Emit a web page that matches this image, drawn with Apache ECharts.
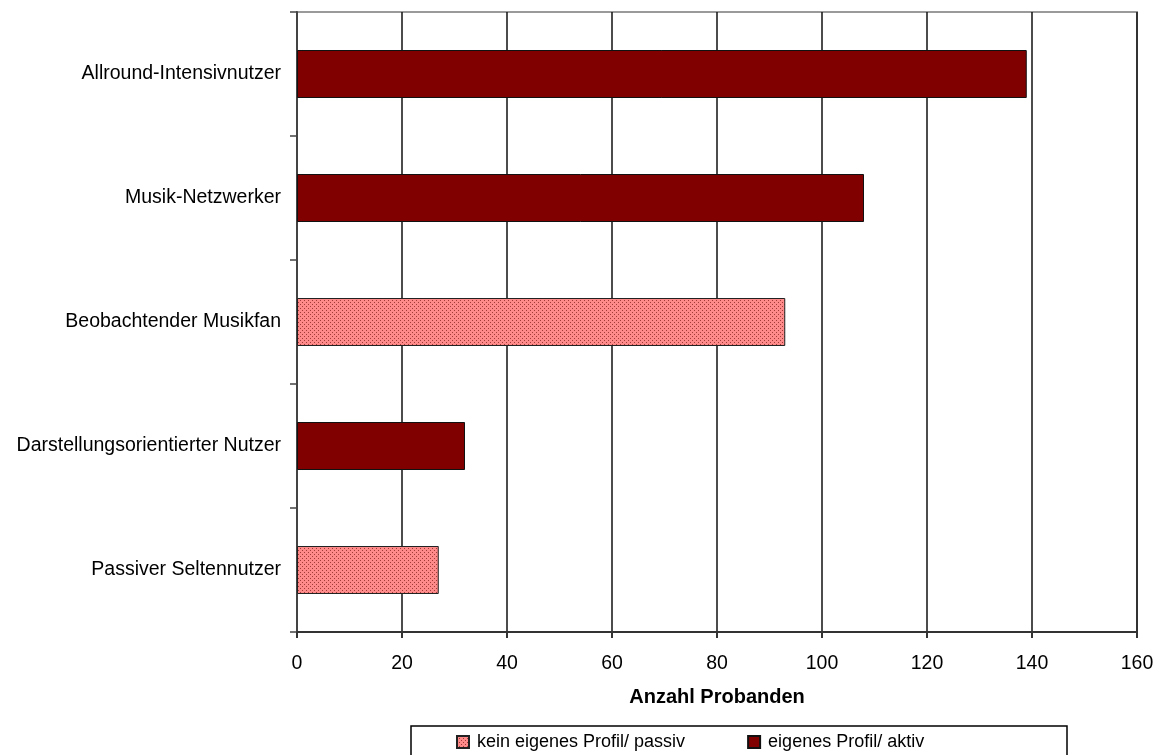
<!DOCTYPE html>
<html>
<head>
<meta charset="utf-8">
<script src="https://cdn.jsdelivr.net/npm/echarts@6/dist/echarts.min.js"></script>
<style>
  html, body { margin: 0; padding: 0; background: #fff; }
  #chart { width: 1158px; height: 755px; }
</style>
</head>
<body>
<div id="chart"></div>
<script>
// Nutzertypen, von oben nach unten
const categories = [
  'Allround-Intensivnutzer',
  'Musik-Netzwerker',
  'Beobachtender Musikfan',
  'Darstellungsorientierter Nutzer',
  'Passiver Seltennutzer'
];
// Anzahl Probanden je Typ, getrennt nach Profilstatus (null = nicht zutreffend)
const passivValues = [null, null, 93, null, 27];
const aktivValues  = [139, 108, null, 32, null];
const seriesNames = ['kein eigenes Profil/ passiv', 'eigenes Profil/ aktiv'];
const xTicks = { min: 0, max: 160, interval: 20 };
const xAxisTitle = 'Anzahl Probanden';

// Punktraster für die passive Gruppe
function dotPattern() {
  const c = document.createElement('canvas');
  c.width = 4; c.height = 4;
  const g = c.getContext('2d');
  g.fillStyle = '#ff8a8a';
  g.fillRect(0, 0, 4, 4);
  g.fillStyle = '#a33a3a';
  g.fillRect(0, 0, 1, 1);
  g.fillRect(2, 2, 1, 1);
  return c;
}

const chart = echarts.init(document.getElementById('chart'), null, { renderer: 'canvas' });
const font = '"Liberation Sans", Arial, sans-serif';

chart.setOption({
  animation: false,
  backgroundColor: '#fff',
  textStyle: { fontFamily: font },
  grid: {
    left: 297, right: 21, top: 12, bottom: 123,
    show: true, borderColor: '#9a9a9a', borderWidth: 2,
    containLabel: false
  },
  xAxis: {
    type: 'value',
    min: xTicks.min, max: xTicks.max, interval: xTicks.interval,
    name: xAxisTitle,
    nameLocation: 'middle',
    nameGap: 55,
    nameTextStyle: { fontFamily: font, fontSize: 20, fontWeight: 'bold', color: '#000' },
    axisLine: { show: true, lineStyle: { color: '#333', width: 2 } },
    axisTick: { show: true, length: 6, lineStyle: { color: '#333', width: 2 } },
    axisLabel: { fontFamily: font, fontSize: 19.5, color: '#000', margin: 22 },
    splitLine: { show: true, lineStyle: { color: '#111', width: 1.5 } }
  },
  yAxis: {
    type: 'category',
    data: categories,
    inverse: true,
    axisLine: { show: true, lineStyle: { color: '#444', width: 2 } },
    axisTick: { show: true, length: 7, lineStyle: { color: '#444', width: 1.5 } },
    axisLabel: { fontFamily: font, fontSize: 19.5, color: '#000', margin: 16 },
    splitLine: { show: false }
  },
  legend: {
    left: 456, top: 733,
    padding: 0,
    itemWidth: 12, itemHeight: 12,
    itemGap: 62,
    icon: 'rect',
    textStyle: { fontFamily: font, fontSize: 18, color: '#000', padding: [0, 0, 0, 3] },
    data: seriesNames
  },
  graphic: [{
    type: 'rect',
    shape: { x: 411, y: 726, width: 656, height: 40 },
    style: { fill: 'none', stroke: '#000', lineWidth: 1.5 },
    silent: true, z: 0
  }],
  series: [
    {
      name: seriesNames[0],
      type: 'bar',
      stack: 'n',
      barWidth: 48,
      data: passivValues,
      itemStyle: {
        color: { image: dotPattern(), repeat: 'repeat' },
        borderColor: '#222', borderWidth: 1
      }
    },
    {
      name: seriesNames[1],
      type: 'bar',
      stack: 'n',
      barWidth: 48,
      data: aktivValues,
      itemStyle: { color: '#800000', borderColor: '#111', borderWidth: 1 }
    }
  ]
});
</script>
</body>
</html>
